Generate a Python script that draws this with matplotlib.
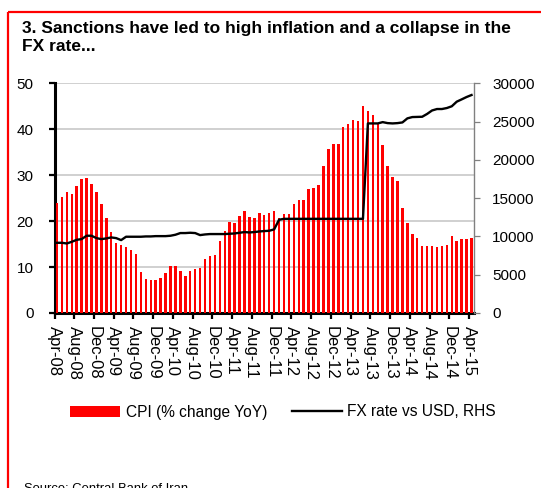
import matplotlib
matplotlib.use("Agg")
import matplotlib.pyplot as plt
from matplotlib.lines import Line2D
from matplotlib.patches import Patch
import numpy as np

plt.rcParams['font.family'] = ['Liberation Sans', 'DejaVu Sans']

# Monthly data, Apr-08 .. Apr-15
cpi_yoy = [
    24.0, 25.2, 26.3, 26.0, 27.6, 29.2, 29.4, 28.1, 26.3, 23.8,
    20.7, 17.6, 15.3, 14.8, 14.3, 13.7, 12.9, 9.0, 7.3, 7.2,
    7.2, 7.6, 8.7, 10.3, 10.2, 9.2, 8.1, 9.2, 9.5, 9.8,
    11.7, 12.4, 12.7, 15.7, 17.8, 19.7, 19.5, 21.1, 22.2, 20.9,
    20.7, 21.8, 21.4, 21.8, 22.3, 20.7, 21.6, 21.6, 23.7, 24.7,
    24.7, 26.9, 27.3, 27.9, 31.9, 35.8, 36.8, 36.8, 40.4, 41.2,
    42.1, 41.7, 45.1, 43.9, 43.1, 41.4, 36.5, 31.9, 29.5, 28.7,
    22.8, 19.6, 17.3, 16.4, 14.5, 14.5, 14.5, 14.3, 14.5, 14.9,
    16.7, 15.6, 16.0, 16.0, 16.4,
]

fx_usd = [
    9170, 9170, 9080, 9300, 9560, 9650, 10090, 10090, 9780, 9650,
    9740, 9870, 9780, 9520, 9960, 9960, 9960, 9960, 10000, 10000,
    10040, 10040, 10040, 10090, 10220, 10440, 10440, 10480, 10440, 10175,
    10260, 10310, 10310, 10310, 10310, 10350, 10390, 10480, 10570, 10520,
    10570, 10650, 10700, 10740, 10920, 12180, 12300, 12300, 12300, 12300,
    12300, 12300, 12300, 12300, 12300, 12300, 12300, 12300, 12300, 12300,
    12300, 12300, 12300, 24760, 24760, 24760, 24930, 24800, 24760, 24800,
    24890, 25420, 25590, 25610, 25630, 26000, 26450, 26640, 26640, 26770,
    27000, 27600, 27900, 28210, 28470,
]

tick_labels = [
    "Apr-08", "Aug-08", "Dec-08", "Apr-09", "Aug-09", "Dec-09",
    "Apr-10", "Aug-10", "Dec-10", "Apr-11", "Aug-11", "Dec-11",
    "Apr-12", "Aug-12", "Dec-12", "Apr-13", "Aug-13", "Dec-13",
    "Apr-14", "Aug-14", "Dec-14", "Apr-15",
]

title_lines = ["3. Sanctions have led to high inflation and a collapse in the",
               "FX rate..."]
source_text = "Source: Central Bank of Iran"

W, H = 541, 488
fig = plt.figure(figsize=(W / 100, H / 100), dpi=100)

def fx_(px):
    return px / W

def fy_(py):
    return 1 - py / H

# outer red frame (left and top edges)
fig.add_artist(Line2D([fx_(7.5), fx_(7.5)], [fy_(12), -0.1], color='#ff0000',
                      lw=1.6, transform=fig.transFigure, solid_capstyle='butt'))
fig.add_artist(Line2D([fx_(7.5), 1.1], [fy_(12), fy_(12)], color='#ff0000',
                      lw=1.6, transform=fig.transFigure, solid_capstyle='butt'))

# title
fig.text(fx_(22), fy_(21.5), title_lines[0], fontsize=12.5, fontweight='bold',
         va='top', ha='left')
fig.text(fx_(22), fy_(38.8), title_lines[1], fontsize=12.5, fontweight='bold',
         va='top', ha='left')

ax_left, ax_right = 54.5, 474
ax_top, ax_bot = 83.3, 313
ax = fig.add_axes([fx_(ax_left), fy_(ax_bot), (ax_right - ax_left) / W,
                   (ax_bot - ax_top) / H])

n = len(cpi_yoy)
x = np.arange(n)
ax.bar(x, cpi_yoy, width=0.5, color='#ff0000', zorder=3, linewidth=0)
ax.set_xlim(-0.5, n - 0.5)
ax.set_ylim(0, 50)
ax.set_yticks([0, 10, 20, 30, 40, 50])
ax.yaxis.grid(True, color='#c8c8c8', lw=1.2, zorder=0)
ax.set_axisbelow(True)

tick_pos = np.arange(0, n, 4) - 0.5
ax.set_xticks(tick_pos)
ax.set_xticklabels(tick_labels, rotation=-90, fontsize=12, va='top', ha='center')
ax.tick_params(axis='x', length=4, width=1.6, color='black', pad=5)
ax.tick_params(axis='y', length=4, width=1.6, color='black', pad=11, labelsize=11)

ax.spines['top'].set_visible(False)
ax.spines['left'].set_linewidth(2.2)
ax.spines['bottom'].set_linewidth(2.2)
ax.spines['right'].set_visible(False)

ax2 = ax.twinx()
ax2.plot(x, fx_usd, color='black', lw=1.7, zorder=4)
ax2.set_ylim(0, 30000)
ax2.set_yticks(np.arange(0, 30001, 5000))
ax2.tick_params(axis='y', length=4, width=0.9, color='#808080', pad=9, labelsize=11)
for s in ['top', 'left', 'bottom']:
    ax2.spines[s].set_visible(False)
ax2.spines['right'].set_color('#808080')
ax2.spines['right'].set_linewidth(1.0)

# legend
handles = [Patch(facecolor='#ff0000', edgecolor='none'),
           Line2D([0], [0], color='black', lw=1.7)]
fig.legend(handles, ["CPI (% change YoY)", "FX rate vs USD, RHS"],
           loc='center', bbox_to_anchor=(fx_(283), fy_(412)), ncol=2,
           frameon=False, fontsize=11.2, handlelength=3.2, handletextpad=0.35,
           columnspacing=1.6, borderpad=0, borderaxespad=0)

# source note along the bottom edge
fig.text(fx_(24), fy_(492), source_text, fontsize=9.4, va='baseline', ha='left')

fig.savefig("out.png", dpi=100)
